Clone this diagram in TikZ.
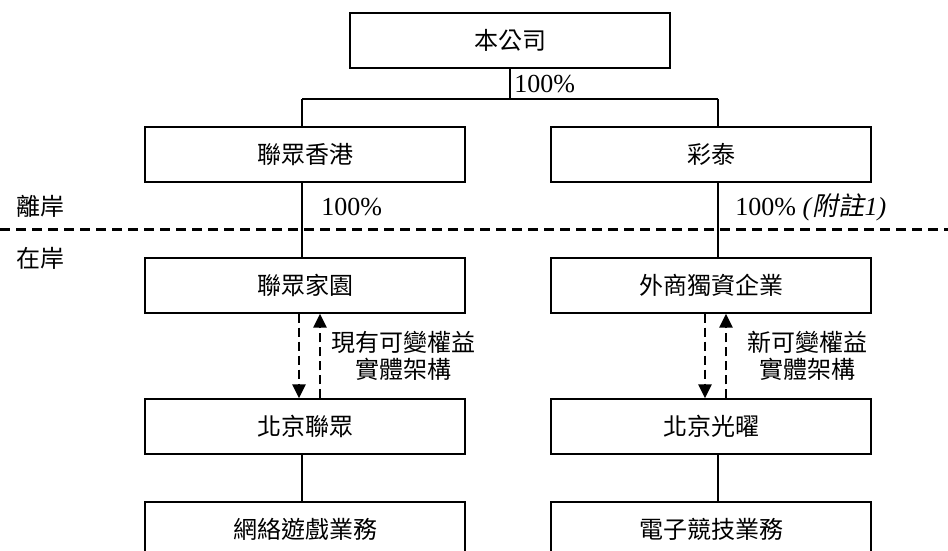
\documentclass[tikz,border=0pt]{standalone}
\usepackage{fontspec}
\setmainfont{Liberation Serif}
\newfontfamily\cjk{Noto Sans CJK TC}
\newfontfamily\cjksl{Noto Sans CJK TC}[FakeSlant=0.2]
\usetikzlibrary{arrows.meta}

\begin{document}
\begin{tikzpicture}[x=0.5pt,y=-0.5pt,>={Triangle[width=6.5pt,length=7pt]},
		box/.style={draw,line width=0.65pt,minimum width=160pt,minimum height=27.5pt,inner sep=0pt,font=\fontsize{12}{14}\selectfont\cjk},
		conn/.style={line width=0.65pt},
		via/.style={line width=1.3pt,dash pattern=on 4.5pt off 2.5pt},
		lbl/.style={inner sep=0pt,font=\fontsize{12}{13.5}\selectfont\cjk,align=center},
		pct/.style={inner sep=0pt,anchor=west,font=\fontsize{13}{15}\selectfont}]
		\clip (0,0) rectangle (948,551);

		\node[box] (top) at (510,40.5) {本公司};
		\node[box] (hk)  at (305,154.5) {聯眾香港};
		\node[box] (ct)  at (711,154.5) {彩泰};
		\node[box] (jy)  at (305,285.5) {聯眾家園};
		\node[box] (wfoe) at (711,285.5) {外商獨資企業};
		\node[box] (bjlz) at (305,426.5) {北京聯眾};
		\node[box] (bjgy) at (711,426.5) {北京光曜};
		\node[box] (game) at (305,529.5) {網絡遊戲業務};
		\node[box] (esp)  at (711,529.5) {電子競技業務};

		\coordinate (lbar) at (302,99);
		\coordinate (rbar) at (718,99);

		% shareholding lines
		\draw[conn] (top.south) -- (top.south |- lbar);
		\draw[conn] (lbar) -- (rbar);
		\draw[conn] (lbar) -- (lbar |- hk.north);
		\draw[conn] (rbar) -- (rbar |- ct.north);
		\draw[conn] (hk.south -| lbar) -- (jy.north -| lbar);
		\draw[conn] (ct.south -| rbar) -- (wfoe.north -| rbar);
		\draw[conn] (bjlz.south -| lbar) -- (game.north -| lbar);
		\draw[conn] (bjgy.south -| rbar) -- (esp.north -| rbar);

		\node[pct] at (514,84) {100\%};
		\node[pct] at (321,207) {100\%};
		\node[pct] at (735,207) {100\% \textit{(}{\cjksl 附註}\textit{1)}};

		% offshore / onshore
		\draw[line width=1.5pt,dash pattern=on 5pt off 3pt] (0,229) -- (948,229);
		\node[lbl] at (41,206) {離岸};
		\node[lbl] at (41,258) {在岸};

		% contractual arrangements
		\draw[via,->] ([xshift=-3pt]jy.south) -- ([xshift=-3pt]bjlz.north);
		\draw[via,->] ([xshift=7.5pt]bjlz.north) -- ([xshift=7.5pt]jy.south);
		\draw[via,->] ([xshift=-3pt]wfoe.south) -- ([xshift=-3pt]bjgy.north);
		\draw[via,->] ([xshift=7.5pt]bjgy.north) -- ([xshift=7.5pt]wfoe.south);
		\node[lbl] at (403,356) {現有可變權益\\實體架構};
		\node[lbl] at (807,356) {新可變權益\\實體架構};
	\end{tikzpicture}
\end{document}
